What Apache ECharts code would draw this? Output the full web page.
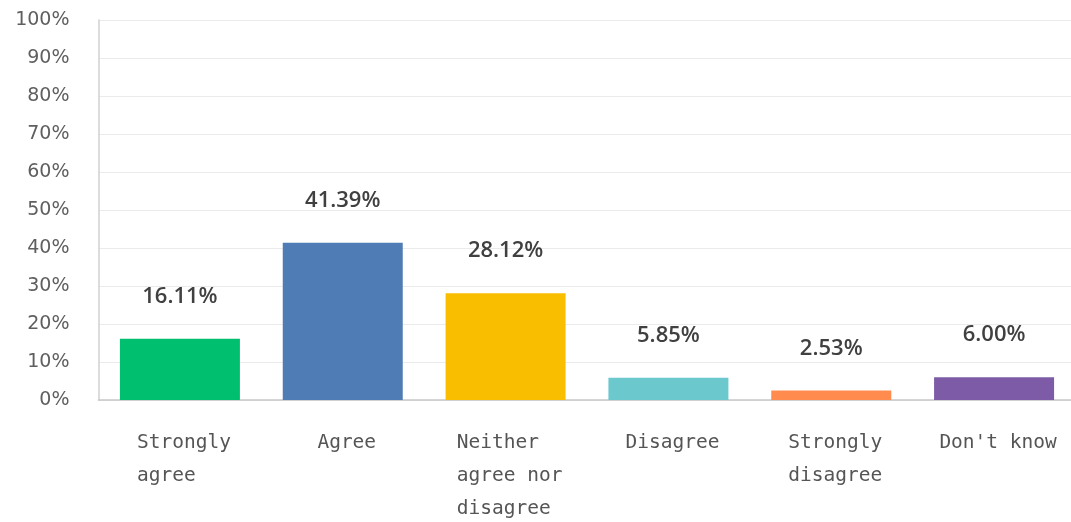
<!DOCTYPE html>
<html>
<head>
<meta charset="utf-8">
<script src="https://cdn.jsdelivr.net/npm/echarts@6/dist/echarts.min.js"></script>
<style>html,body{margin:0;padding:0;background:#fff;overflow:hidden;}#c{width:1080px;height:522px;}</style>
</head>
<body>
<div id="c"></div>
<script>
const categories = ['Strongly\nagree', 'Agree', 'Neither\nagree nor\ndisagree', 'Disagree', 'Strongly\ndisagree', "Don't know"];
const values = [16.11, 41.39, 28.12, 5.85, 2.53, 6.00];
const colors = ['#00bf6f', '#507cb6', '#f9be00', '#6bc8cd', '#ff8b4f', '#7d5ba6'];
const yTicks = [0, 10, 20, 30, 40, 50, 60, 70, 80, 90, 100];

const chart = echarts.init(document.getElementById('c'));
chart.setOption({
  animation: false,
  grid: { left: 98.5, right: 4.5, top: 20, height: 380, containLabel: false },
  xAxis: {
    type: 'category',
    data: categories,
    axisLine: { lineStyle: { color: '#c8c8c8', width: 1.5 } },
    axisTick: { show: false },
    axisLabel: {
      interval: 0,
      margin: 26,
      padding: [0, 0, 0, 8],
      formatter: v => v.split('\n').map(s => '{a|' + s + '}').join('\n'),
      rich: { a: { align: 'left', fontFamily: 'DejaVu Sans Mono', fontSize: 19.5, color: '#555', lineHeight: 33 } }
    }
  },
  yAxis: {
    type: 'value',
    min: 0, max: 100, interval: 10,
    axisLine: { show: true, lineStyle: { color: '#d0d0d0', width: 1.5 } },
    axisTick: { show: false },
    splitLine: { lineStyle: { color: '#ebebeb' } },
    axisLabel: {
      margin: 29,
      fontFamily: 'DejaVu Sans', fontSize: 19, color: '#5f5f5f',
      formatter: v => yTicks.includes(v) ? v + '%' : ''
    }
  },
  series: [{
    type: 'bar',
    barWidth: 120,
    data: values.map((v, i) => ({ value: v, itemStyle: { color: colors[i] } })),
    label: {
      show: true, position: 'top', distance: 31,
      fontFamily: 'Open Sans', fontSize: 22, fontWeight: 600, color: '#404040',
      formatter: p => p.value.toFixed(2) + '%'
    }
  }]
});
</script>
</body>
</html>
